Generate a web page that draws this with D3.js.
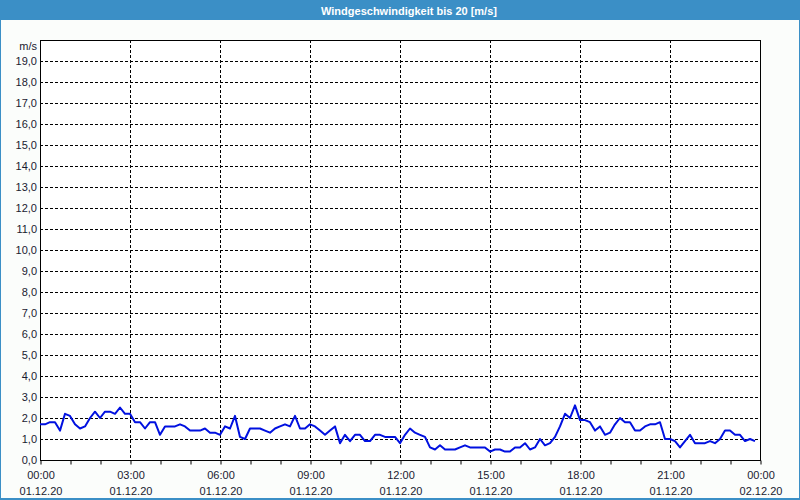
<!DOCTYPE html>
<html><head><meta charset="utf-8">
<script src="https://cdn.jsdelivr.net/npm/d3@7"></script>
<style>
html,body{margin:0;padding:0;background:#fff;}
svg{display:block;font-family:"Liberation Sans",Arial,sans-serif;}
</style></head>
<body>
<svg id="c" width="800" height="500"></svg>
<script>
const title = "Windgeschwindigkeit bis 20 [m/s]";
const unitLabel = "m/s";
const yTicks = [0,1,2,3,4,5,6,7,8,9,10,11,12,13,14,15,16,17,18,19];
const xTickHours = [0,3,6,9,12,15,18,21,24];
const xTickTimes = ["00:00","03:00","06:00","09:00","12:00","15:00","18:00","21:00","00:00"];
const xTickDates = ["01.12.20","01.12.20","01.12.20","01.12.20","01.12.20","01.12.20","01.12.20","01.12.20","02.12.20"];
const stepMinutes = 10;
// wind speed m/s, every 10 minutes from 00:00 to 23:50
const speeds = [
1.7,1.7,1.8,1.8,1.4,2.2,2.1,1.7,1.5,1.6,2.0,2.3,2.0,2.3,2.3,2.2,2.5,2.2,
2.2,1.8,1.8,1.5,1.8,1.8,1.2,1.6,1.6,1.6,1.7,1.6,1.4,1.4,1.4,1.5,1.3,1.3,
1.2,1.6,1.5,2.1,1.1,1.0,1.5,1.5,1.5,1.4,1.3,1.5,1.6,1.7,1.6,2.1,1.5,1.5,
1.7,1.6,1.4,1.2,1.4,1.6,0.8,1.2,0.9,1.2,1.2,0.9,0.9,1.2,1.2,1.1,1.1,1.1,
0.8,1.2,1.5,1.3,1.2,1.1,0.6,0.5,0.7,0.5,0.5,0.5,0.6,0.7,0.6,0.6,0.6,0.6,
0.4,0.5,0.5,0.4,0.4,0.6,0.6,0.8,0.5,0.6,1.0,0.7,0.8,1.1,1.6,2.2,2.0,2.6,
1.9,1.9,1.8,1.4,1.6,1.2,1.3,1.7,2.0,1.8,1.8,1.4,1.4,1.6,1.7,1.7,1.8,1.0,
1.0,0.9,0.6,0.9,1.2,0.8,0.8,0.8,0.9,0.8,1.0,1.4,1.4,1.2,1.2,0.9,1.0,0.9
];

const svg = d3.select("#c");
const W = 800, H = 500;
const m = {l:40, r:40, t:40, b:40};
const pw = W - m.l - m.r, ph = H - m.t - m.b;

svg.append("rect").attr("x",0).attr("y",0).attr("width",W).attr("height",H).attr("fill","#3b8fc6");
svg.append("rect").attr("x",1).attr("y",20).attr("width",W-2).attr("height",H-22).attr("fill","#fbfdfb");
svg.append("text").attr("x",409).attr("y",14.5).attr("text-anchor","middle")
  .attr("fill","#fff").attr("font-weight","bold").attr("font-size","11px").text(title);

const x = d3.scaleLinear().domain([0,24]).range([m.l, m.l+pw]);
const y = d3.scaleLinear().domain([0,20]).range([m.t+ph, m.t]);

const g = svg.append("g");
g.append("rect").attr("x",m.l).attr("y",m.t).attr("width",pw).attr("height",ph).attr("fill","#fff");

// horizontal grid
g.selectAll("line.hg").data(yTicks.filter(d=>d>0)).join("line")
  .attr("x1",m.l).attr("x2",m.l+pw)
  .attr("y1",d=>Math.round(y(d))+0.5).attr("y2",d=>Math.round(y(d))+0.5)
  .attr("stroke","#000").attr("stroke-width",1).attr("stroke-dasharray","3,2");
// vertical grid
g.selectAll("line.vg").data(xTickHours.filter(d=>d>0&&d<24)).join("line")
  .attr("y1",m.t).attr("y2",m.t+ph)
  .attr("x1",d=>Math.round(x(d))+0.5).attr("x2",d=>Math.round(x(d))+0.5)
  .attr("stroke","#000").attr("stroke-width",1).attr("stroke-dasharray","3,2");

// frame
g.append("rect").attr("x",m.l+0.5).attr("y",m.t+0.5).attr("width",pw).attr("height",ph)
  .attr("fill","none").attr("stroke","#000").attr("stroke-width",1);

// x axis ticks (hourly)
const xAxis = d3.axisBottom(x).tickValues(d3.range(0,25)).tickSize(4).tickFormat("");
const xa = svg.append("g").attr("transform",`translate(0.5,${m.t+ph+0.5})`).call(xAxis);
xa.select(".domain").remove();
xa.selectAll("line").attr("stroke","#000");

// x labels
const lab = svg.append("g").attr("font-size","11px").attr("fill","#1a1a30");
xTickHours.forEach((h,i)=>{
  lab.append("text").attr("x",x(h)+1).attr("y",479).attr("text-anchor","middle").text(xTickTimes[i]);
  lab.append("text").attr("x",x(h)+1).attr("y",495).attr("text-anchor","middle").text(xTickDates[i]);
});
// y labels
const fmt = d => d.toFixed(1).replace(".",",");
yTicks.forEach(v=>{
  lab.append("text").attr("x",37).attr("y",y(v)+4).attr("text-anchor","end").text(fmt(v));
});
lab.append("text").attr("x",37).attr("y",50).attr("text-anchor","end").text(unitLabel);

// line
const line = d3.line().x((d,i)=>x(i*stepMinutes/60)).y(d=>y(d));
svg.append("path").datum(speeds).attr("d",line).attr("fill","none")
  .attr("stroke","#0010e0").attr("stroke-width",2).attr("stroke-linejoin","round");
</script>
</body></html>
